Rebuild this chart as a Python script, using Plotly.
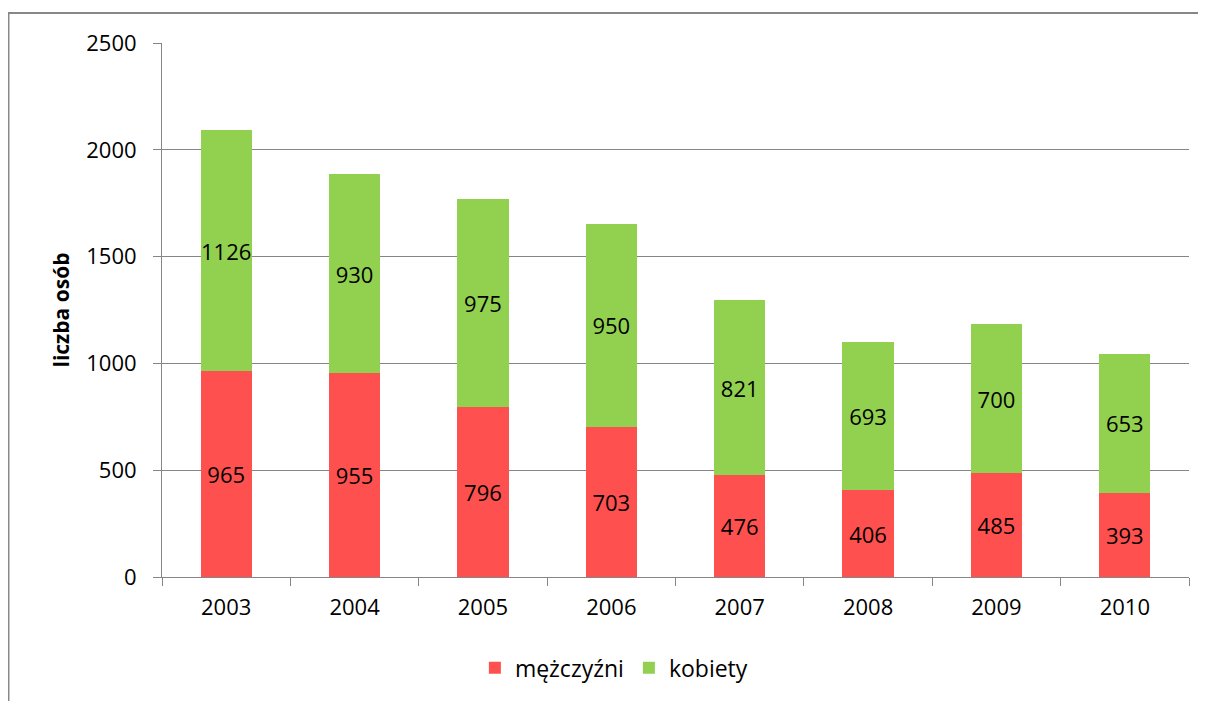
import plotly.graph_objects as go

years = ["2003", "2004", "2005", "2006", "2007", "2008", "2009", "2010"]
men = [965, 955, 796, 703, 476, 406, 485, 393]
women = [1126, 930, 975, 950, 821, 693, 700, 653]
y_ticks = [0, 500, 1000, 1500, 2000, 2500]

FONT = "Open Sans"
FS = 22
fig = go.Figure()
fig.add_trace(go.Bar(x=years, y=men, name="mężczyźni", marker=dict(color="#FF5050", line_width=0),
                     text=men, textposition="inside", insidetextanchor="middle", textangle=0,
                     textfont=dict(color="black", size=FS, family=FONT)))
fig.add_trace(go.Bar(x=years, y=women, name="kobiety", marker=dict(color="#92D050", line_width=0),
                     text=women, textposition="inside", insidetextanchor="middle", textangle=0,
                     textfont=dict(color="black", size=FS, family=FONT)))

fig.update_layout(
    width=1198, height=693, barmode="stack", bargap=0.6,
    plot_bgcolor="white", paper_bgcolor="white",
    margin=dict(l=154, r=17, t=35, b=124),
    font=dict(family=FONT, size=FS, color="black"),
    uniformtext=dict(mode="show", minsize=FS),
    showlegend=True,
    legend=dict(orientation="h", x=0.44, xanchor="center", y=-0.13, yanchor="top",
                font=dict(size=23), itemwidth=30, traceorder="normal"),
    yaxis=dict(range=[0, 2500], tickvals=y_ticks, showgrid=True, gridcolor="#868686", gridwidth=1,
               showline=True, linecolor="#868686", linewidth=1, ticks="outside", ticklen=8,
               tickcolor="#868686", zeroline=False, ticklabelstandoff=12,
               title=dict(text="<b>liczba osób</b>", font=dict(size=21), standoff=10)),
    xaxis=dict(showline=True, linecolor="#868686", linewidth=1, ticks="outside", ticklen=8,
               tickcolor="#868686", tickson="boundaries", showgrid=False, ticklabelstandoff=11),
    shapes=[dict(type="rect", xref="paper", yref="paper", x0=-0.1495, x1=1.3, y0=-0.5, y1=1.0562,
                 line=dict(color="#878787", width=2), layer="below")],
)
fig.write_html("out.html")
